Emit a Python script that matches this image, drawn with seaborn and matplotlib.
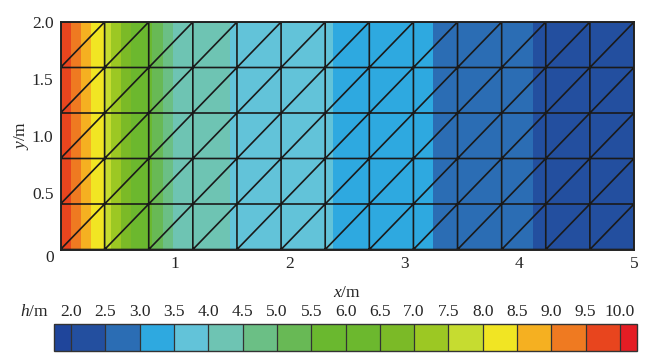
import numpy as np
import matplotlib
matplotlib.use("Agg")
import matplotlib.pyplot as plt
import matplotlib.tri as mtri
from matplotlib.colors import ListedColormap, BoundaryNorm
import seaborn as sns

# ---------------- data ----------------
# positions (m) where the head h crosses each contour level
h_levels = [9.98, 9.5, 9.0, 8.5, 8.0, 7.5, 7.0, 6.5, 6.0, 5.5, 5.0, 4.5, 4.0, 3.5, 3.0, 2.5, 2.05]
x_cross = [0.0, 0.089, 0.176, 0.263, 0.384, 0.44, 0.527, 0.615, 0.71, 0.80, 0.894, 0.98,
           1.478, 2.376, 3.245, 4.12, 5.0]

levels = [2.0, 2.5, 3.0, 3.5, 4.0, 4.5, 5.0, 5.5, 6.0, 6.5, 7.0, 7.5, 8.0, 8.5, 9.0, 9.5, 10.0]
level_labels = ["2.0", "2.5", "3.0", "3.5", "4.0", "4.5", "5.0", "5.5", "6.0", "6.5",
                "7.0", "7.5", "8.0", "8.5", "9.0", "9.5", "10.0"]
band_colors = ["#234f9f", "#2b6db4", "#2ea9e0", "#62c3d9", "#6ec4b3", "#6bbf85", "#68b955",
               "#6ab82f", "#6cb82e", "#7bba27", "#9cc823", "#c6dc30", "#f1e523", "#f5b021",
               "#ef7a21", "#e8451e"]
under_color = "#1f459b"
over_color = "#e51d24"

x_ticks = [1, 2, 3, 4, 5]
y_ticks = [0.5, 1.0, 1.5, 2.0]
length, width = 5.0, 2.0
n_cols, n_rows = 13, 5

# ---------------- style ----------------
sns.set_style("white")
plt.rcParams["font.family"] = ["Liberation Serif", "DejaVu Serif"]
plt.rcParams["mathtext.fontset"] = "custom"
plt.rcParams["mathtext.it"] = "Liberation Serif:italic"
plt.rcParams["mathtext.rm"] = "Liberation Serif"
FS = 12.5

fig = plt.figure(figsize=(6.58, 3.61), dpi=100)
W, H = 658, 361
ax = fig.add_axes([60.5 / W, 1 - 249.5 / H, (634 - 60.5) / W, (249.5 - 22) / H])

# field
xg = np.linspace(0, length, 1201)
yg = np.array([0.0, width])
hx = np.interp(xg, x_cross, h_levels)
Z = np.tile(hx, (len(yg), 1))
cmap = ListedColormap(band_colors)
cmap.set_under(under_color)
cmap.set_over(over_color)
norm = BoundaryNorm(levels, cmap.N)
cf = ax.contourf(xg, yg, Z, levels=levels, cmap=cmap, norm=norm, extend="both",
                 antialiased=False)

# triangular mesh
xn = np.linspace(0, length, n_cols + 1)
yn = np.linspace(0, width, n_rows + 1)
XN, YN = np.meshgrid(xn, yn)
tris = []
for j in range(n_rows):
    for i in range(n_cols):
        a = j * (n_cols + 1) + i
        b = a + 1
        c = a + (n_cols + 1)
        d = c + 1
        tris.append([a, b, d])
        tris.append([a, d, c])
tri = mtri.Triangulation(XN.ravel(), YN.ravel(), tris)
ax.triplot(tri, color="#1a1a1a", lw=1.2)

ax.set_xlim(0, length)
ax.set_ylim(0, width)
ax.set_xticks(x_ticks)
ax.set_xticklabels([str(t) for t in x_ticks], fontsize=FS)
ax.set_yticks(y_ticks)
ax.set_yticklabels([f"{t:.1f}" for t in y_ticks], fontsize=FS)
ax.tick_params(axis="x", direction="in", length=8, width=1, color="#1a1a1a", pad=5)
ax.tick_params(axis="y", length=0, pad=5)
ax.annotate("0", xy=(0, 0), xycoords="data", xytext=(-7.5, -6), textcoords="offset points",
            ha="center", va="center", fontsize=FS)
ax.set_xlabel(r"$x$/m", fontsize=FS, labelpad=9)
ax.set_ylabel(r"$y$/m", fontsize=FS, labelpad=1)
for s in ax.spines.values():
    s.set_color("#222222")
    s.set_linewidth(1.4)

# colorbar
cax = fig.add_axes([54 / W, 1 - 350.7 / H, (637 - 54) / W, (350.7 - 324) / H])
cb = fig.colorbar(cf, cax=cax, orientation="horizontal", extendrect=True,
                  extendfrac=1 / 32, drawedges=True, ticks=levels)
cb.ax.xaxis.set_ticks_position("top")
cb.ax.set_xticklabels(level_labels, fontsize=FS)
cb.ax.tick_params(length=0, pad=3)
cb.outline.set_edgecolor("#333333")
cb.outline.set_linewidth(1.0)
cb.dividers.set_color("#333333")
cb.dividers.set_linewidth(0.9)
fig.text(34 / W, 1 - 312 / H, r"$h$/m", ha="center", va="center", fontsize=FS)

fig.savefig("out.png", dpi=100)
